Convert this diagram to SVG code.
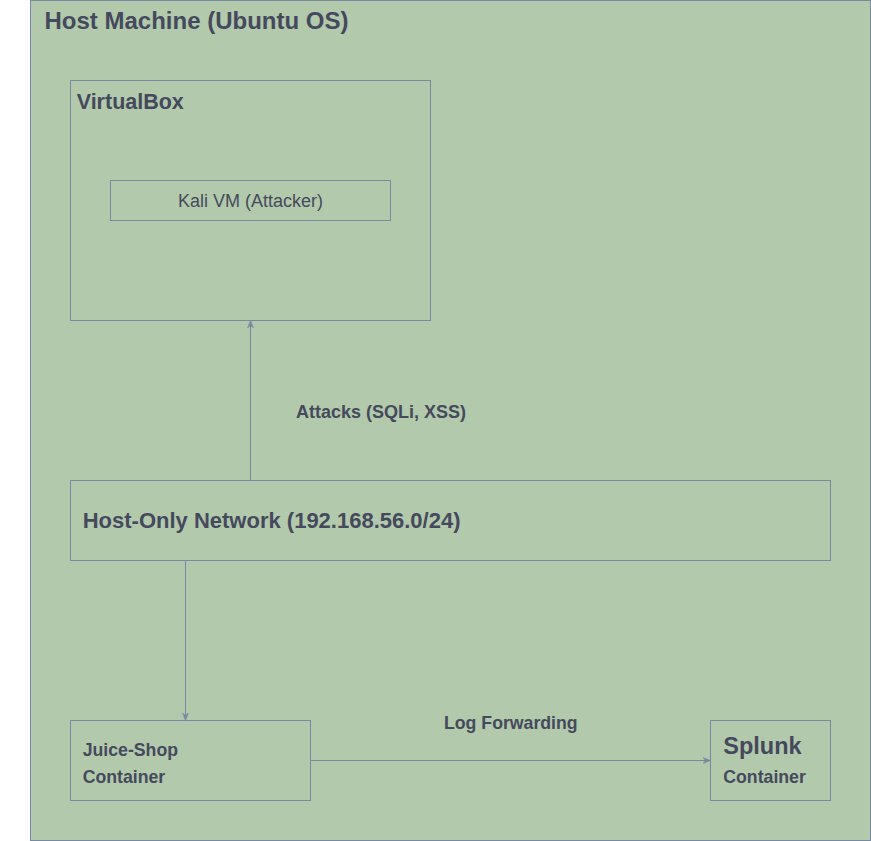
<svg xmlns="http://www.w3.org/2000/svg" width="871" height="841" viewBox="0 0 871 841">
<style>
.box{fill:#B2C9AB;stroke:#788AA3;stroke-width:1}
.in{fill:none;stroke:#788AA3;stroke-width:1}
.t{font-family:"Liberation Sans",Arial,sans-serif;fill:#46495D}
.b{font-weight:bold}
.edge{fill:none;stroke:#788AA3;stroke-width:1}
</style>
<defs>
<marker id="arr" viewBox="0 0 10 10" refX="9" refY="5" markerWidth="8" markerHeight="8" markerUnits="userSpaceOnUse" orient="auto">
<path d="M0,1 L10,5 L0,9 L3,5 Z" fill="#788AA3" stroke="#788AA3" stroke-width="0.5"/>
</marker>
</defs>
<rect width="871" height="841" fill="#ffffff"/>
<g id="host">
<rect class="box" x="30.5" y="0.5" width="840" height="840"/>
<text class="t b" x="44.5" y="29.3" font-size="24">Host Machine (Ubuntu OS)</text>
</g>
<g id="virtualbox">
<rect class="in" x="70.5" y="80.5" width="360" height="240"/>
<text class="t b" x="76.7" y="109" font-size="21.5">VirtualBox</text>
</g>
<g id="kali">
<rect class="in" x="110.5" y="180.5" width="280" height="40"/>
<text class="t" x="250.5" y="207.3" font-size="18" text-anchor="middle">Kali VM (Attacker)</text>
</g>
<g id="hostonly">
<rect class="in" x="70.5" y="480.5" width="760" height="80"/>
<text class="t b" x="82.7" y="528.3" font-size="22">Host-Only Network (192.168.56.0/24)</text>
</g>
<g id="juiceshop">
<rect class="in" x="70.5" y="720.5" width="240" height="80"/>
<text class="t b" x="82.7" y="755.7" font-size="17.7">Juice-Shop</text>
<text class="t b" x="82.7" y="783" font-size="17.7">Container</text>
</g>
<g id="splunk">
<rect class="in" x="710.5" y="720.5" width="120" height="80"/>
<text class="t b" x="723.3" y="754.3" font-size="23.5">Splunk</text>
<text class="t b" x="723.3" y="783" font-size="17.7">Container</text>
</g>
<g id="connectors">
<path class="edge" d="M250.5,480 L250.5,321" marker-end="url(#arr)"/>
<path class="edge" d="M185.5,561 L185.5,720" marker-end="url(#arr)"/>
<path class="edge" d="M311,760.5 L710,760.5" marker-end="url(#arr)"/>
<text class="t b" x="296" y="418" font-size="18">Attacks (SQLi, XSS)</text>
<text class="t b" x="444" y="729" font-size="17.7">Log Forwarding</text>
</g>
</svg>
